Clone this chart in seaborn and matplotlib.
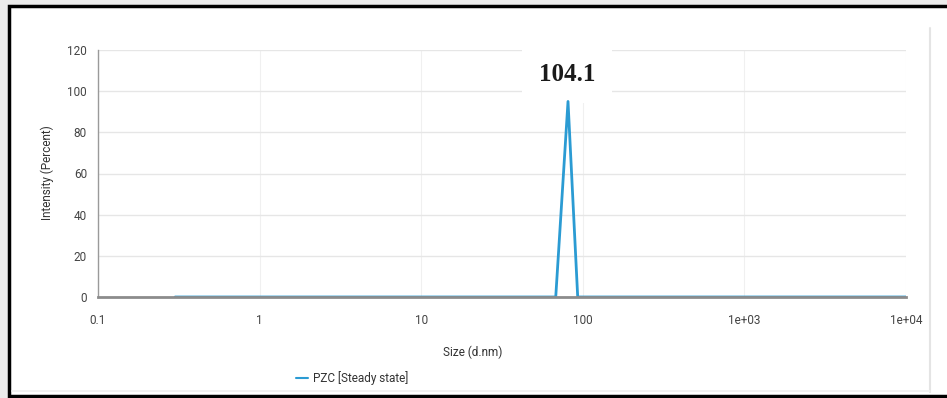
import matplotlib
matplotlib.use("Agg")
import matplotlib.pyplot as plt
import seaborn as sns
import pandas as pd
from matplotlib.patches import Rectangle
from matplotlib.lines import Line2D
from matplotlib import font_manager

# ---- data ----
size_nm = [0.3, 1, 10, 68, 81, 93, 1000, 10000]
intensity = [0, 0, 0, 0, 95, 0, 0, 0]
x_ticks = [0.1, 1, 10, 100, 1000, 10000]
x_tick_labels = ["0.1", "1", "10", "100", "1e+03", "1e+04"]
y_ticks = [0, 20, 40, 60, 80, 100, 120]
peak_label = "104.1"
series_name = "PZC [Steady state]"

df = pd.DataFrame({"size": size_nm, "intensity": intensity})

sns.set_theme(style="white")
names = {f.name for f in font_manager.fontManager.ttflist}
narrow = "Liberation Sans Narrow" if "Liberation Sans Narrow" in names else "Roboto"
plt.rcParams["font.family"] = [narrow, "DejaVu Sans"]

fig = plt.figure(figsize=(9.47, 3.98), dpi=100)
fig.patch.set_facecolor("#ececec")
W, H = 947, 398
# white panel with black frame
fig.add_artist(Rectangle((9 / W, 1 - 396 / H), (960 - 9) / W, (396 - 6) / H,
                         transform=fig.transFigure, facecolor="white",
                         edgecolor="black", linewidth=2.5, zorder=-10))
# light inner panel border
fig.add_artist(Line2D([930 / W, 930 / W], [1 - 392 / H, 1 - 28 / H],
                      transform=fig.transFigure, color="#e4e4e4", lw=1.5, zorder=-5))
fig.add_artist(Line2D([12 / W, 930 / W], [1 - 391 / H, 1 - 391 / H],
                      transform=fig.transFigure, color="#eeeeee", lw=1.2, zorder=-5))

ax = fig.add_axes([98 / W, 1 - 297 / H, (906 - 98) / W, (297 - 50) / H])
ax.set_zorder(2)
ax.set_facecolor("none")
sns.lineplot(data=df, x="size", y="intensity", ax=ax, color="#2b9bd3",
             linewidth=2.0, label=series_name, legend=False, zorder=3)
ax.set_xscale("log")
ax.set_xlim(0.1, 10000)
ax.set_ylim(0, 120)
ax.set_xticks(x_ticks)
ax.set_xticklabels(x_tick_labels)
ax.minorticks_off()
ax.set_yticks(y_ticks)
ax.grid(True, axis="y", color="#e6e6e6", lw=1.0)
ax.grid(True, axis="x", color="#f0f0f0", lw=0.8)
for s in ["top", "right"]:
    ax.spines[s].set_visible(False)
ax.spines["left"].set_color("#9a9a9a")
ax.spines["left"].set_linewidth(1.0)
ax.spines["bottom"].set_color("#8c8c8c")
ax.spines["bottom"].set_linewidth(2.0)
for s in ["left", "bottom"]:
    ax.spines[s].set_zorder(4)
ax.tick_params(axis="both", which="both", labelsize=8.5, colors="#444444",
               length=4, width=0.8, direction="out", pad=4)
ax.tick_params(axis="x", color="#999999", pad=8)
ax.tick_params(axis="y", color="#999999")
ax.set_xlabel("")
ax.set_ylabel("")

ax.text(80, 108, peak_label, ha="center", va="center", fontsize=18,
        fontweight="bold", family=["Liberation Serif", "DejaVu Serif"],
        color="#1a1a1a",
        bbox=dict(facecolor="white", edgecolor="none", pad=12), zorder=1.5,
        clip_on=False)

fig.text(473 / W, 1 - 352 / H, "Size (d.nm)", ha="center", va="center",
         fontsize=8.5, color="#333333")
fig.text(47 / W, 1 - 173 / H, "Intensity (Percent)", ha="center", va="center",
         rotation=90, fontsize=8.5, color="#333333")

handles, labels = ax.get_legend_handles_labels()
leg = fig.legend(handles, labels, loc="center", bbox_to_anchor=(352 / W, 1 - 378 / H),
                 frameon=False, fontsize=8.5, handlelength=1.0, handletextpad=0.4,
                 labelcolor="#333333")
for h in leg.get_lines():
    h.set_linewidth(1.5)

fig.savefig("out.png", dpi=100, facecolor=fig.get_facecolor())
